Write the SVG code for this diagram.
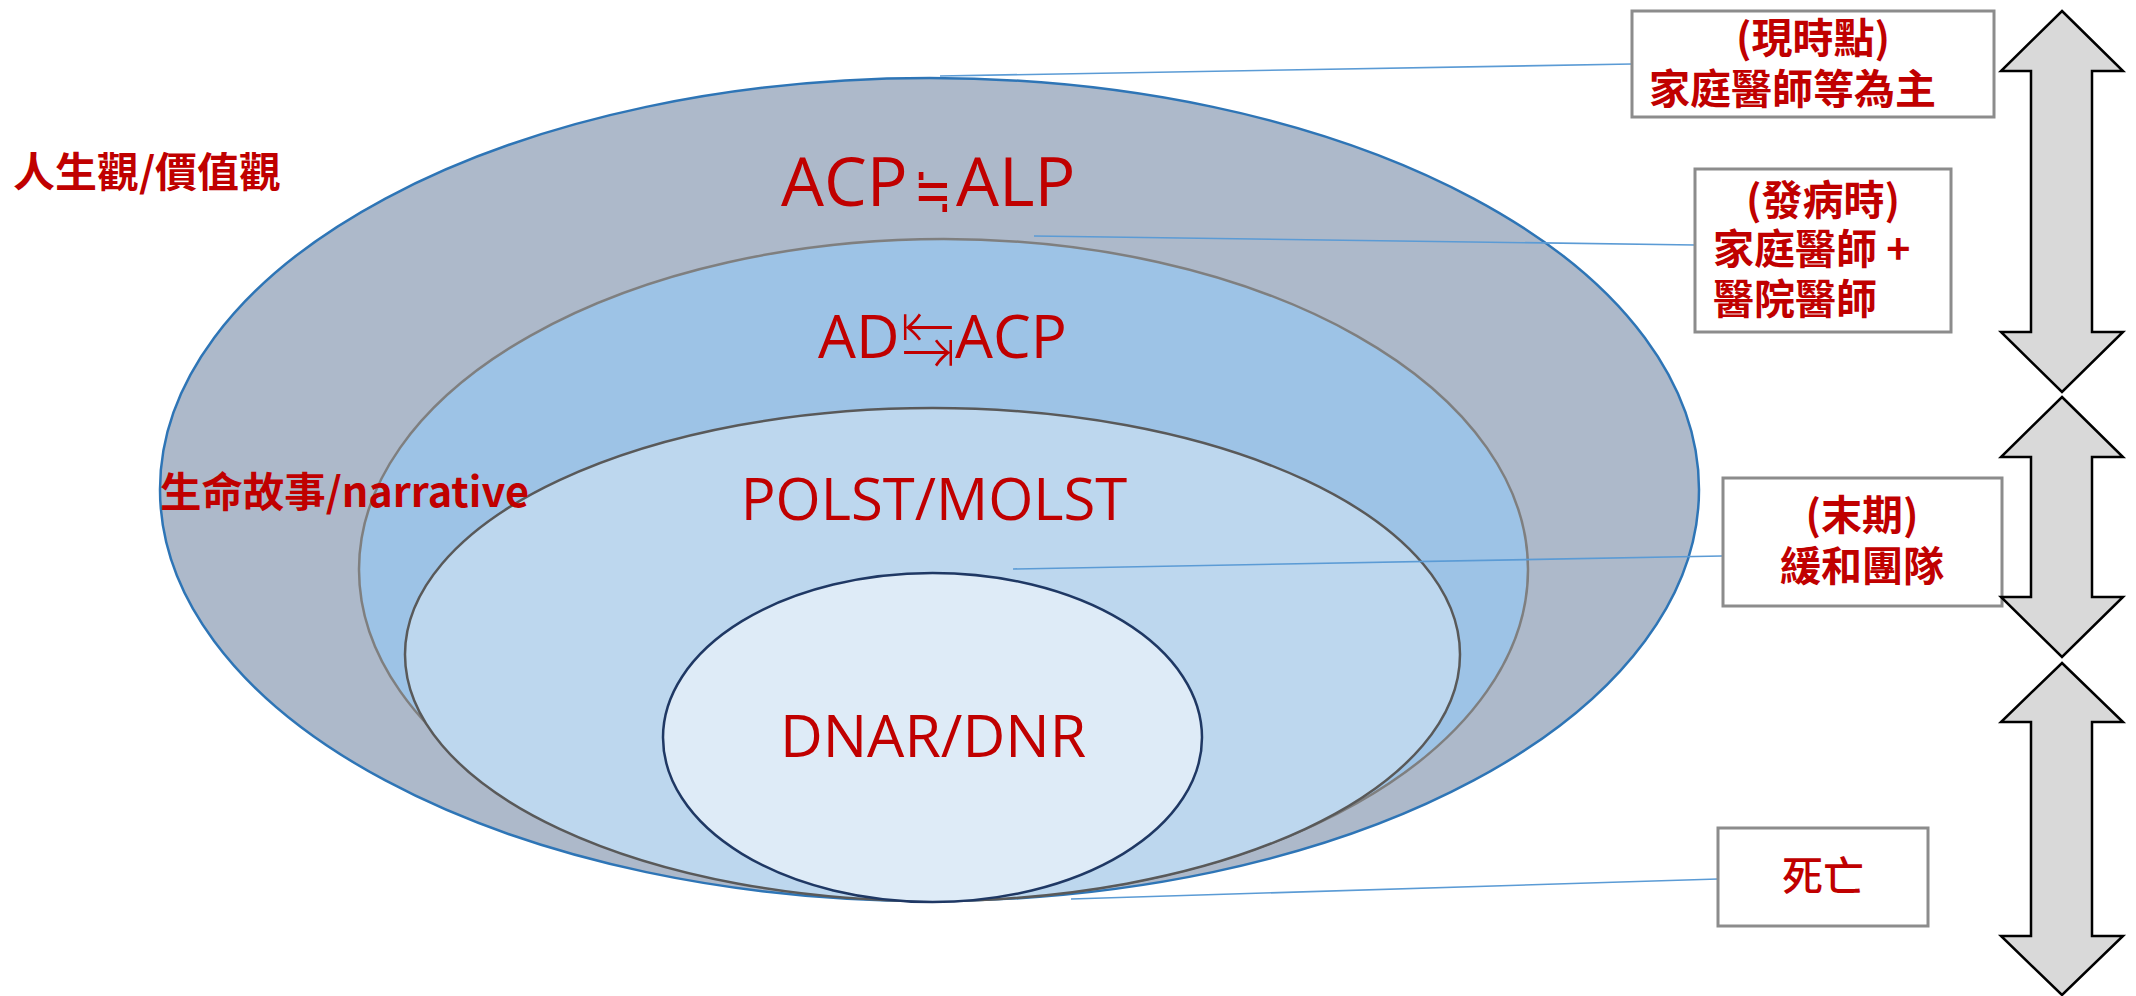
<svg xmlns="http://www.w3.org/2000/svg" width="2136" height="996" viewBox="0 0 2136 996">
<defs>
<style>
.lbl{font-family:"Open Sans","Noto Sans","DejaVu Sans",sans-serif;fill:#C00000;}
.sym2{font-family:"Noto Sans CJK JP","DejaVu Sans",sans-serif;font-weight:300;}
.cjk{font-family:"Noto Sans CJK TC","Noto Sans CJK SC",sans-serif;fill:#C00000;font-weight:bold;font-size:41px;}
.box{fill:#FFFFFF;stroke:#8C8C8C;stroke-width:3;}
.conn{stroke:#5B9BD5;stroke-width:1.6;fill:none;}
.arrow{fill:#D9D9D9;stroke:#000000;stroke-width:2.5;stroke-linejoin:miter;}
</style>
</defs>
<rect x="0" y="0" width="2136" height="996" fill="#FFFFFF"/>
<g id="layer-acp">
<ellipse cx="929.5" cy="489.5" rx="769.5" ry="411.5" fill="#ADB9CA" stroke="#2E75B6" stroke-width="2.5"/>
</g>
<g id="layer-ad">
<ellipse cx="943.5" cy="569.5" rx="584.5" ry="330.5" fill="#9DC3E6" stroke="#7F7F7F" stroke-width="2.5"/>
</g>
<g id="layer-polst">
<ellipse cx="932.5" cy="654.5" rx="527.5" ry="246.5" fill="#BDD7EE" stroke="#595959" stroke-width="2.5"/>
</g>
<g id="layer-dnr">
<ellipse cx="932.5" cy="737.5" rx="269.5" ry="164.5" fill="#DEEBF7" stroke="#1F3864" stroke-width="2.5"/>
</g>
<g id="labels">
<text class="lbl" font-size="68" y="206"><tspan x="781">ACP</tspan><tspan class="sym2" x="914" y="212" font-size="64" textLength="38" lengthAdjust="spacingAndGlyphs">≒</tspan><tspan x="956" y="206">ALP</tspan></text>
<text class="lbl" font-size="60" y="358"><tspan x="818">AD</tspan><tspan class="sym2" x="902" y="362" font-size="58" textLength="52" lengthAdjust="spacingAndGlyphs">↹</tspan><tspan x="955" y="358">ACP</tspan></text>
<text class="lbl" font-size="58" x="934" y="520" text-anchor="middle">POLST/MOLST</text>
<text class="lbl" font-size="59" x="933" y="757" text-anchor="middle">DNAR/DNR</text>
<text class="cjk" x="13" y="187" textLength="268" lengthAdjust="spacingAndGlyphs">人生觀/價值觀</text>
<text class="cjk" x="160" y="507" font-size="42" textLength="369" lengthAdjust="spacingAndGlyphs">生命故事/narrative</text>
</g>
<g id="connectors">
<line class="conn" x1="940" y1="76" x2="1632" y2="64"/>
<line class="conn" x1="1034" y1="236" x2="1695" y2="245"/>
<line class="conn" x1="1013" y1="569" x2="1722" y2="556"/>
<line class="conn" x1="1071" y1="899" x2="1718" y2="879"/>
</g>
<g id="box-now">
<rect class="box" x="1632" y="11" width="362" height="106"/>
<text class="cjk" x="1813" y="53" text-anchor="middle">(現時點)</text>
<text class="cjk" x="1649" y="104">家庭醫師等為主</text>
</g>
<g id="box-onset">
<rect class="box" x="1695" y="169" width="256" height="163"/>
<text class="cjk" x="1823" y="215" text-anchor="middle">(發病時)</text>
<text class="cjk" x="1713" y="264">家庭醫師 +</text>
<text class="cjk" x="1713" y="314">醫院醫師</text>
</g>
<g id="box-terminal">
<rect class="box" x="1723" y="478" width="279" height="128"/>
<text class="cjk" x="1862" y="530" text-anchor="middle">(末期)</text>
<text class="cjk" x="1862" y="581" text-anchor="middle">緩和團隊</text>
</g>
<g id="box-death">
<rect class="box" x="1718" y="828" width="210" height="98"/>
<text class="cjk" x="1823" y="891" text-anchor="middle" style="font-weight:500">死亡</text>
</g>
<g id="arrow-1">
<path class="arrow" d="M2062 11 L2123 71 L2092 71 L2092 332 L2123 332 L2062 392 L2001 332 L2031 332 L2031 71 L2001 71 Z"/>
</g>
<g id="arrow-2">
<path class="arrow" d="M2062 397 L2123 457 L2092 457 L2092 597 L2123 597 L2062 657 L2001 597 L2031 597 L2031 457 L2001 457 Z"/>
</g>
<g id="arrow-3">
<path class="arrow" d="M2062 663 L2123 722 L2092 722 L2092 936 L2123 936 L2062 995 L2001 936 L2031 936 L2031 722 L2001 722 Z"/>
</g>
</svg>
